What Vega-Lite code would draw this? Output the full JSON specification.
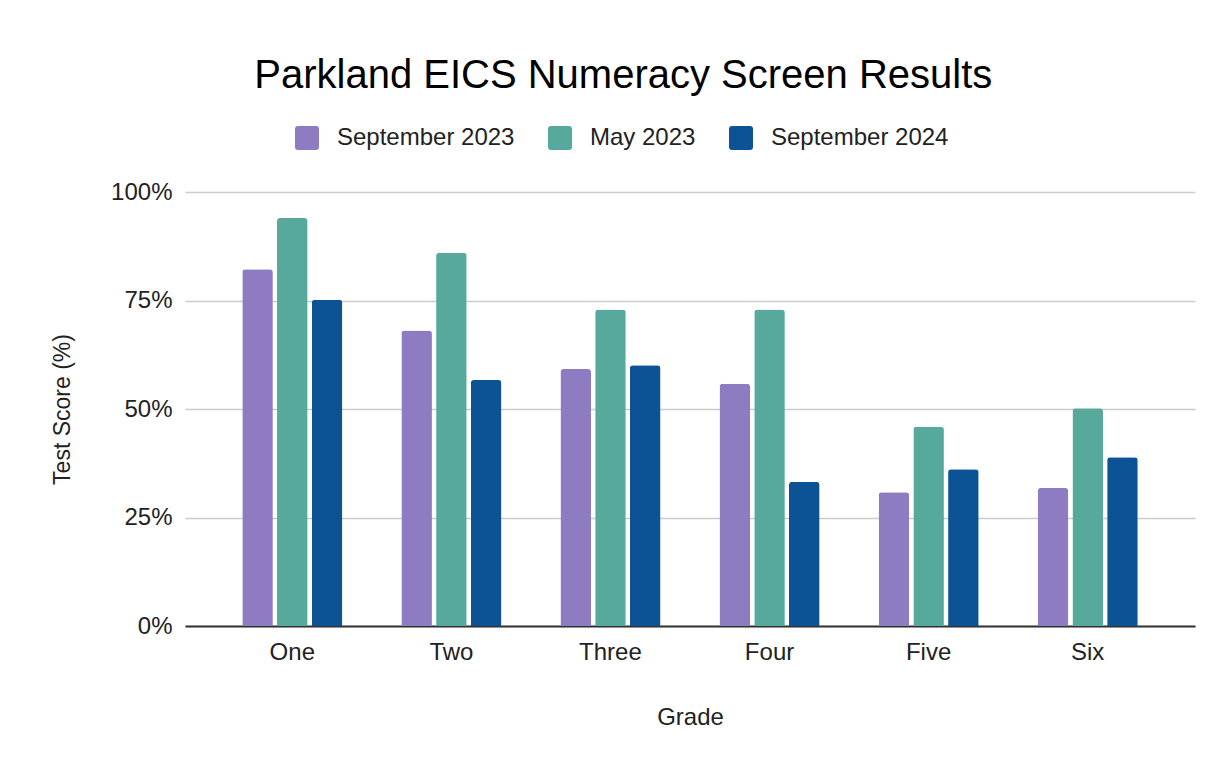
{
  "$schema": "https://vega.github.io/schema/vega-lite/v6.json",
  "width": 1010,
  "height": 434,
  "padding": {"left": 51, "top": 56, "right": 20, "bottom": 26},
  "background": "white",
  "title": {
    "text": "Parkland EICS Numeracy Screen Results",
    "fontSize": 40,
    "font": "Liberation Sans",
    "fontWeight": "normal",
    "color": "#000000",
    "anchor": "middle",
    "frame": "bounds",
    "offset": 30
  },
  "data": {
    "values": [
      {"grade": "One", "period": "September 2023", "score": 0.822},
      {"grade": "One", "period": "May 2023", "score": 0.940},
      {"grade": "One", "period": "September 2024", "score": 0.752},
      {"grade": "Two", "period": "September 2023", "score": 0.681},
      {"grade": "Two", "period": "May 2023", "score": 0.860},
      {"grade": "Two", "period": "September 2024", "score": 0.567},
      {"grade": "Three", "period": "September 2023", "score": 0.592},
      {"grade": "Three", "period": "May 2023", "score": 0.729},
      {"grade": "Three", "period": "September 2024", "score": 0.601},
      {"grade": "Four", "period": "September 2023", "score": 0.558},
      {"grade": "Four", "period": "May 2023", "score": 0.729},
      {"grade": "Four", "period": "September 2024", "score": 0.332},
      {"grade": "Five", "period": "September 2023", "score": 0.308},
      {"grade": "Five", "period": "May 2023", "score": 0.459},
      {"grade": "Five", "period": "September 2024", "score": 0.361},
      {"grade": "Six", "period": "September 2023", "score": 0.318},
      {"grade": "Six", "period": "May 2023", "score": 0.502},
      {"grade": "Six", "period": "September 2024", "score": 0.389}
    ]
  },
  "mark": {"type": "bar", "cornerRadiusTopLeft": 3, "cornerRadiusTopRight": 3},
  "encoding": {
    "x": {
      "field": "grade",
      "type": "nominal",
      "sort": ["One", "Two", "Three", "Four", "Five", "Six"],
      "scale": {"paddingInner": 0.371, "paddingOuter": 0.36},
      "axis": {
        "title": "Grade",
        "labelAngle": 0,
        "ticks": false,
        "domain": true,
        "domainColor": "#333333",
        "domainWidth": 2,
        "labelPadding": 14,
        "titlePadding": 41,
        "grid": false
      }
    },
    "xOffset": {
      "field": "period",
      "type": "nominal",
      "sort": ["September 2023", "May 2023", "September 2024"],
      "scale": {"paddingInner": 0.12, "paddingOuter": 0}
    },
    "y": {
      "field": "score",
      "type": "quantitative",
      "scale": {"domain": [0, 1]},
      "axis": {
        "title": "Test Score (%)",
        "values": [0, 0.25, 0.5, 0.75, 1],
        "format": ".0%",
        "ticks": false,
        "domain": false,
        "grid": true,
        "gridColor": "#cccccc",
        "gridWidth": 1.5,
        "labelPadding": 13,
        "titlePadding": 36,
        "titleFontSize": 23
      }
    },
    "color": {
      "field": "period",
      "type": "nominal",
      "scale": {
        "domain": ["September 2023", "May 2023", "September 2024"],
        "range": ["#8e7cc3", "#57aa9b", "#0b5394"]
      },
      "legend": {
        "title": null,
        "orient": "none",
        "direction": "horizontal",
        "legendX": 110,
        "legendY": -66,
        "symbolType": "M-0.75,-1H0.75Q1,-1 1,-0.75V0.75Q1,1 0.75,1H-0.75Q-1,1 -1,0.75V-0.75Q-1,-1 -0.75,-1Z",
        "symbolSize": 576,
        "symbolStrokeWidth": 0,
        "labelOffset": 18,
        "columnPadding": 33,
        "labelFontSize": 24,
        "labelLimit": 500,
        "labelFont": "Liberation Sans",
        "labelColor": "#222222",
        "padding": 0
      }
    }
  },
  "config": {
    "view": {"stroke": null},
    "font": "Liberation Sans",
    "axis": {
      "labelFont": "Liberation Sans",
      "labelFontSize": 24,
      "labelColor": "#222222",
      "titleFont": "Liberation Sans",
      "titleFontSize": 24,
      "titleFontWeight": "normal",
      "titleColor": "#222222"
    }
  }
}
